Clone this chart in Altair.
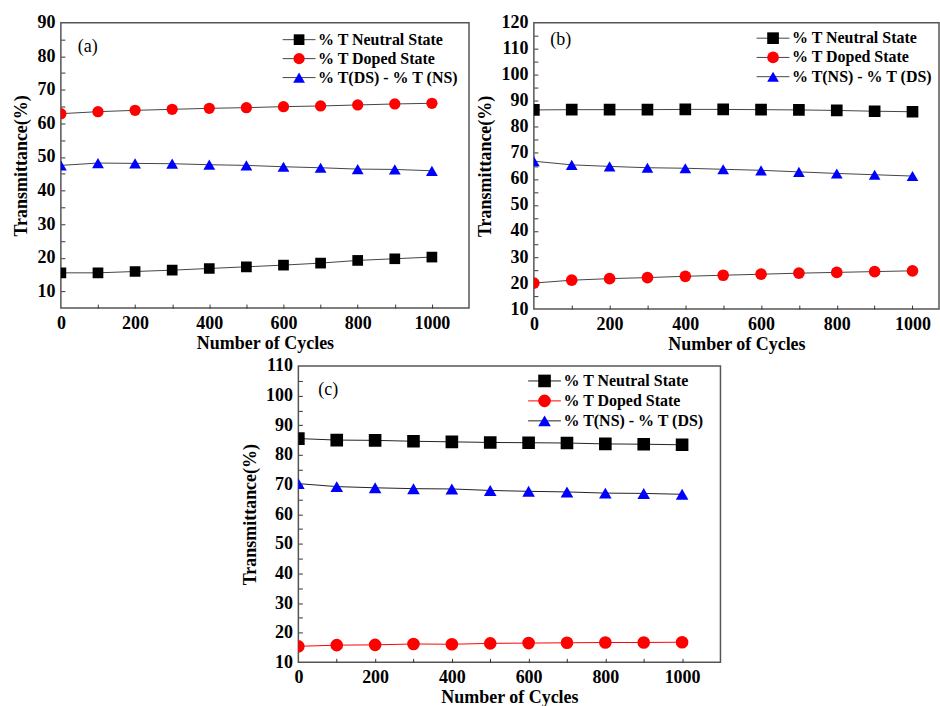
import altair as alt
import pandas as pd

# ---------------- data ----------------
cycles = [0, 100, 200, 300, 400, 500, 600, 700, 800, 900, 1000]

labels_a = ["% T Neutral State", "% T Doped State", "% T(DS) - % T (NS)"]
labels_bc = ["% T Neutral State", "% T Doped State", "% T(NS) - % T (DS)"]
panel_tags = ["(a)", "(b)", "(c)"]

a_neutral = [15.5, 15.5, 15.9, 16.3, 16.8, 17.3, 17.8, 18.4, 19.2, 19.7, 20.2]
a_doped = [62.9, 63.5, 63.9, 64.2, 64.5, 64.7, 65.0, 65.2, 65.5, 65.8, 66.0]
a_diff = [47.5, 48.2, 48.1, 48.0, 47.7, 47.5, 47.1, 46.8, 46.4, 46.3, 45.9]

b_neutral = [86.5, 86.6, 86.6, 86.6, 86.7, 86.7, 86.6, 86.5, 86.3, 86.0, 85.8]
b_doped = [20.0, 21.1, 21.7, 22.1, 22.6, 23.0, 23.4, 23.8, 24.1, 24.4, 24.7]
b_diff = [66.8, 65.4, 64.8, 64.3, 64.1, 63.7, 63.3, 62.7, 62.1, 61.6, 61.1]

c_neutral = [85.5, 85.0, 84.9, 84.6, 84.4, 84.2, 84.1, 84.0, 83.7, 83.6, 83.4]
c_doped = [15.4, 15.8, 15.9, 16.2, 16.1, 16.4, 16.5, 16.6, 16.7, 16.7, 16.8]
c_diff = [70.3, 69.3, 68.9, 68.6, 68.5, 68.0, 67.7, 67.5, 67.1, 67.0, 66.7]

x_label_values = [0, 200, 400, 600, 800, 1000]
x_tick_values = [100, 200, 300, 400, 500, 600, 700, 800, 900, 1000]
a_y_labels = [10, 20, 30, 40, 50, 60, 70, 80, 90]
b_y_labels = [10, 20, 30, 40, 50, 60, 70, 80, 90, 100, 110, 120]
c_y_labels = [10, 20, 30, 40, 50, 60, 70, 80, 90, 100, 110]
a_y_ticks = [10, 15, 20, 25, 30, 35, 40, 45, 50, 55, 60, 65, 70, 75, 80, 85]
b_y_ticks = [15, 20, 25, 30, 35, 40, 45, 50, 55, 60, 65, 70, 75, 80, 85, 90, 95, 100, 105, 110, 115]
c_y_ticks = [15, 20, 25, 30, 35, 40, 45, 50, 55, 60, 65, 70, 75, 80, 85, 90, 95, 100, 105]

# ---------------- style ----------------
FONT = "Liberation Serif"
marker_colors = ["#000000", "#ff0000", "#0000ff"]
marker_shapes = ["square", "circle", "triangle-up"]
keys = ["k0", "k1", "k2"]


def make_panel(tag, labels, series, xdom, ydom, ylab, ytick, w, h,
               line_colors, sizes, lx, ly, rowpad, tx, ty):
    rows = []
    for k, lab, vals in zip(keys, labels, series):
        for c, v in zip(cycles, vals):
            rows.append({"cycle": c, "value": v, "series": lab, "key": k})
    df = pd.DataFrame(rows)

    xs = alt.Scale(domain=xdom, nice=False, zero=False)
    ys = alt.Scale(domain=ydom, nice=False, zero=False)

    x_main = alt.X("cycle:Q", scale=xs, title="Number of Cycles",
                   axis=alt.Axis(values=x_label_values, format="d", ticks=False, tickSize=0,
                                 domain=False, grid=False, labelFlush=False,
                                 labelOverlap=False, labelPadding=6, titlePadding=2))
    y_main = alt.Y("value:Q", scale=ys, title="Transmittance(%)",
                   axis=alt.Axis(values=ylab, format="d", ticks=False, tickSize=0,
                                 domain=False, grid=False, labelFlush=False,
                                 labelOverlap=False, labelPadding=6, titlePadding=6))
    x_tick = alt.X("cycle:Q", scale=xs, title=None,
                   axis=alt.Axis(orient="bottom", values=x_tick_values, labels=False,
                                 domain=False, grid=False, ticks=True, tickSize=4,
                                 offset=-4, minExtent=0))
    y_tick = alt.Y("value:Q", scale=ys, title=None,
                   axis=alt.Axis(orient="left", values=ytick, labels=False,
                                 domain=False, grid=False, ticks=True, tickSize=4,
                                 offset=-4, minExtent=0))

    leg_common = dict(orient="none", legendX=lx, legendY=ly, title=None, padding=0,
                      symbolSize=160, labelFont=FONT, labelFontSize=16,
                      labelFontWeight="bold", labelColor="#000000", labelLimit=400,
                      rowPadding=rowpad, labelOffset=11)

    lines = alt.Chart(df).mark_line(strokeWidth=1, clip=True).encode(
        x=x_main, y=y_main,
        stroke=alt.Stroke("key:N", scale=alt.Scale(domain=keys, range=line_colors),
                          legend=alt.Legend(symbolType="M-2.6,0H2.6", symbolStrokeWidth=1,
                                            labelExpr="' '", zindex=0, **leg_common)),
    )

    leg_p = alt.Legend(symbolStrokeWidth=0, zindex=1, **leg_common)
    points = alt.Chart(df).mark_point(filled=True, opacity=1, clip=True).encode(
        x=x_tick, y=y_tick,
        color=alt.Color("series:N", scale=alt.Scale(domain=labels, range=marker_colors), legend=leg_p),
        shape=alt.Shape("series:N", scale=alt.Scale(domain=labels, range=marker_shapes), legend=leg_p),
        size=alt.Size("series:N", scale=alt.Scale(domain=labels, range=sizes), legend=None),
    )

    tag_layer = alt.Chart(pd.DataFrame({"tag": [tag]})).mark_text(
        font=FONT, fontSize=18, align="center", baseline="middle", color="#000000"
    ).encode(text="tag:N", x=alt.value(tx), y=alt.value(ty))

    return alt.layer(lines, points, tag_layer).resolve_axis(
        x="independent", y="independent"
    ).properties(width=w, height=h)


pa = make_panel(panel_tags[0], labels_a, [a_neutral, a_doped, a_diff], [0, 1100], [5, 90],
                a_y_labels, a_y_ticks, 409, 286, ["#444444", "#444444", "#444444"],
                [115, 140, 210], 230.7, 9, 3, 27, 24)
pb = make_panel(panel_tags[1], labels_bc, [b_neutral, b_doped, b_diff], [0, 1070], [10, 120],
                b_y_labels, b_y_ticks, 406, 287, ["#444444", "#444444", "#444444"],
                [137, 137, 200], 231.7, 7.5, 3.3, 27, 17)
pc = make_panel(panel_tags[2], labels_bc, [c_neutral, c_doped, c_diff], [0, 1100], [10, 110],
                c_y_labels, c_y_ticks, 423, 297, ["#222222", "#ff0000", "#222222"],
                [160, 160, 225], 238.7, 7, 4, 30, 24)

spacer = alt.Chart(pd.DataFrame({"v": [0]})).mark_point(opacity=0).encode(
    x=alt.value(0), y=alt.value(0)
).properties(width=180, height=10, view=alt.ViewBackground(strokeOpacity=0))

res = dict(color="independent", shape="independent", stroke="independent", size="independent")

top = alt.hconcat(pa, pb, spacing=6).resolve_scale(**res)
bottom = alt.hconcat(spacer, pc, spacing=0).resolve_scale(**res)

chart = alt.vconcat(top, bottom, spacing=2).resolve_scale(**res).properties(
    padding={"left": 12, "top": 12, "right": 0, "bottom": 0}
).configure_view(
    stroke="#555555", strokeWidth=1.5
).configure_axis(
    labelFont=FONT, labelFontSize=18, labelFontWeight="bold", labelColor="#000000",
    titleFont=FONT, titleFontSize=18, titleFontWeight="bold", titleColor="#000000",
    tickColor="#333333", tickWidth=1
)

chart.save("out.html", embed_options={"renderer": "svg", "actions": False})
